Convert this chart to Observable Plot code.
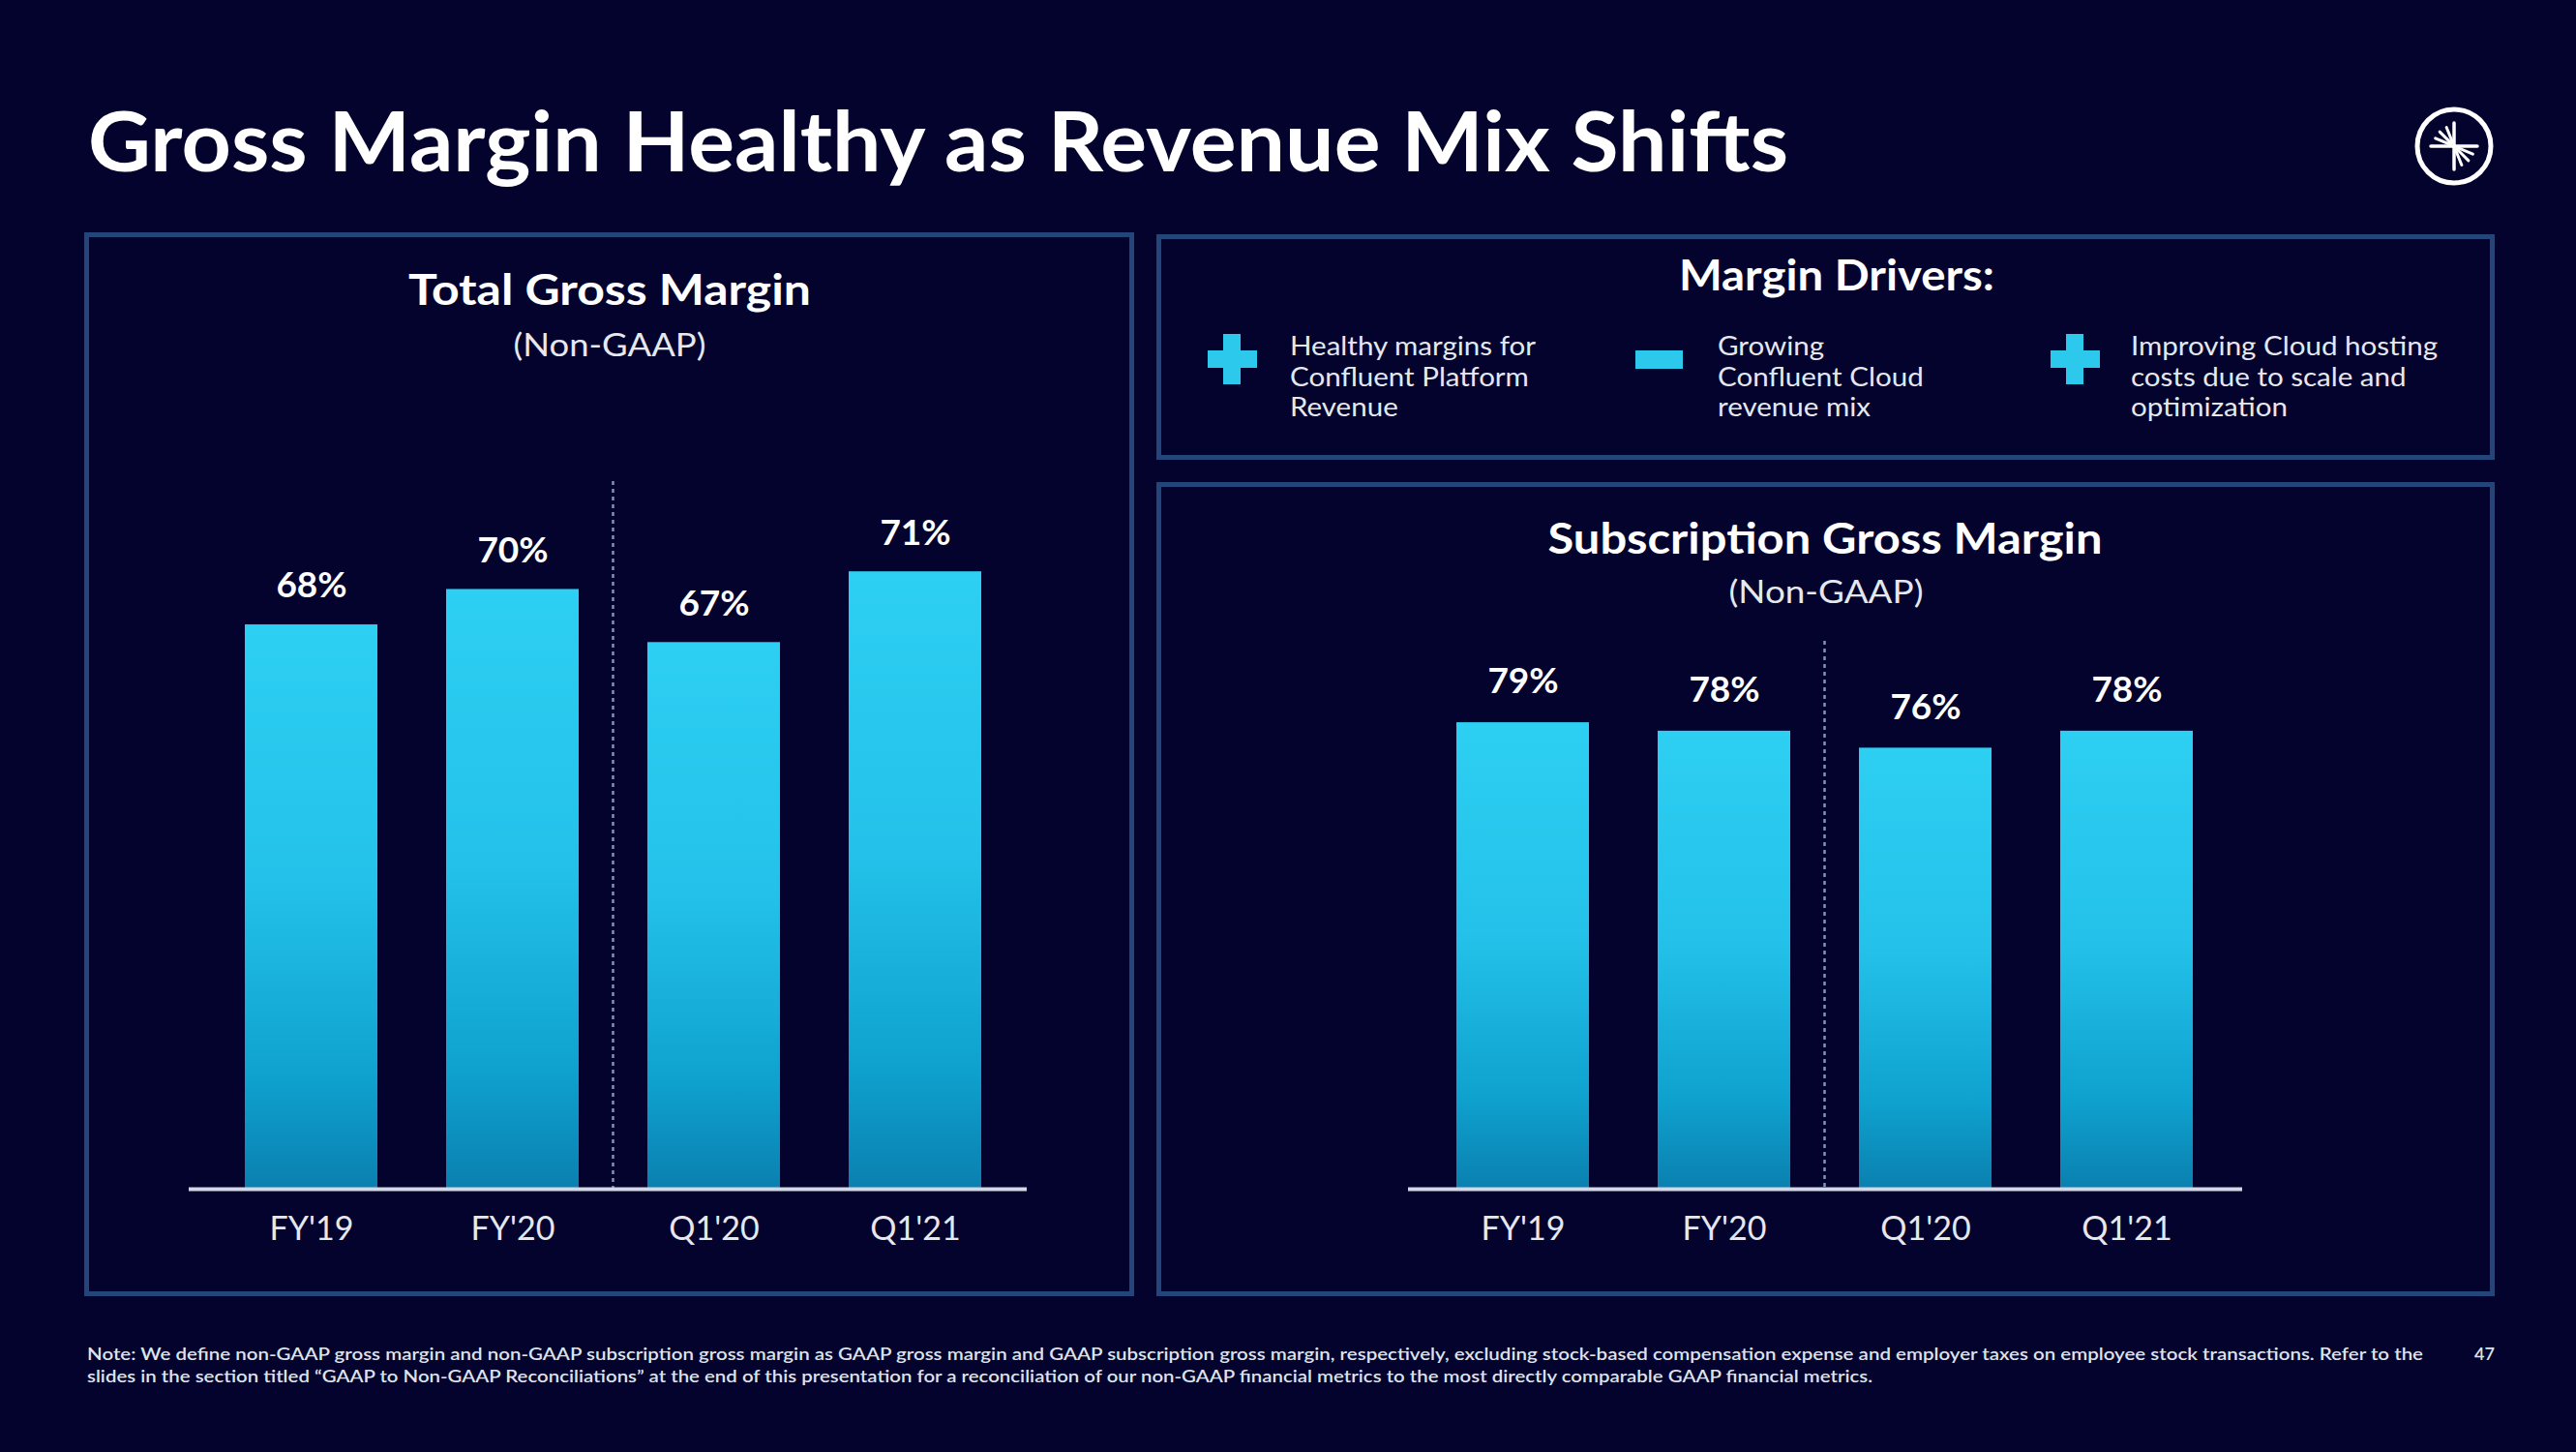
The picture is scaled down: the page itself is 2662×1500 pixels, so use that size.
<!DOCTYPE html>
<html>
<head>
<meta charset="utf-8">
<script src="https://cdn.jsdelivr.net/npm/d3@7"></script>
<script src="https://cdn.jsdelivr.net/npm/@observablehq/plot@0.6"></script>
<style>
  html, body { margin: 0; padding: 0; background: #03032e; }
  body { width: 2662px; height: 1500px; position: relative; overflow: hidden; font-family: Lato, "Open Sans", sans-serif; }
  .panel { position: absolute; box-sizing: border-box; border: 5px solid #24457a; }
  .chart { position: absolute; }
  .icon { position: absolute; background: #2cc9ec; }
  #overlay { position: absolute; left: 0; top: 0; }
</style>
</head>
<body>
<div class="panel" style="left:87px;top:240px;width:1085px;height:1099px;"></div>
<div class="panel" style="left:1195px;top:242px;width:1383px;height:233px;"></div>
<div class="panel" style="left:1195px;top:498px;width:1383px;height:841px;"></div>

<div id="chartTotal" class="chart" style="left:195px;top:497px;"></div>
<div id="chartSub" class="chart" style="left:1455px;top:662px;"></div>

<!-- driver icons -->
<div class="icon" style="left:1248px;top:362px;width:51px;height:18px;"></div>
<div class="icon" style="left:1264px;top:345px;width:18px;height:52px;"></div>
<div class="icon" style="left:1690px;top:362px;width:49px;height:19px;"></div>
<div class="icon" style="left:2119px;top:362px;width:51px;height:18px;"></div>
<div class="icon" style="left:2135px;top:345px;width:18px;height:52px;"></div>

<svg id="overlay" width="2662" height="1500"></svg>

<script>
// ---------- data ----------
const categories = ["FY'19", "FY'20", "Q1'20", "Q1'21"];
const totalMargin = [68, 70, 67, 71];          // Total Gross Margin (Non-GAAP), %
const subscriptionMargin = [79, 78, 76, 78];   // Subscription Gross Margin (Non-GAAP), %
const periodBreakAfter = "FY'20";              // dashed divider between annual and quarterly
const driverLines = [
  ["Healthy margins for", "Confluent Platform", "Revenue"],
  ["Growing", "Confluent Cloud", "revenue mix"],
  ["Improving Cloud hosting", "costs due to scale and", "optimization"]
];
const footnoteLines = [
  "Note: We define non-GAAP gross margin and non-GAAP subscription gross margin as GAAP gross margin and GAAP subscription gross margin, respectively, excluding stock-based compensation expense and employer taxes on employee stock transactions. Refer to the",
  "slides in the section titled \u201CGAAP to Non-GAAP Reconciliations\u201D at the end of this presentation for a reconciliation of our non-GAAP financial metrics to the most directly comparable GAAP financial metrics."
];

// ---------- charts ----------
function barChart({values, gradId, width, height, yDomain, labelDy, xOpts}) {
  const data = categories.map((c, i) => ({cat: c, value: values[i]}));
  const base = yDomain[0];
  const defs = () => {
    const d = d3.create("svg:defs");
    const g = d.append("linearGradient").attr("id", gradId)
      .attr("x1", 0).attr("y1", 0).attr("x2", 0).attr("y2", 1);
    [[0, "#2dcff2"], [0.45, "#24c2ea"], [0.8, "#0fa2cf"], [1, "#0a80b0"]]
      .forEach(([o, c]) => g.append("stop").attr("offset", o).attr("stop-color", c));
    return d.node();
  };
  const divider = (index, scales, values, dims) => {
    const x = scales.x;
    const bw = x.bandwidth ? x.bandwidth() : 0;
    const i = categories.indexOf(periodBreakAfter);
    const xm = (x(categories[i]) + bw + x(categories[i + 1])) / 2;
    return d3.create("svg:line")
      .attr("x1", xm).attr("x2", xm)
      .attr("y1", dims.marginTop).attr("y2", dims.height - dims.marginBottom)
      .attr("stroke", "#8592b5").attr("stroke-width", 2.5)
      .attr("stroke-dasharray", "4,4").node();
  };
  return Plot.plot({
    width, height,
    marginTop: 0, marginBottom: 72, marginLeft: 0, marginRight: 0,
    style: {background: "transparent", color: "#e6e8f0", fontFamily: "Lato, sans-serif", overflow: "visible"},
    x: {domain: categories, axis: null, ...xOpts},
    y: {domain: yDomain, axis: null},
    marks: [
      defs,
      Plot.barY(data, {x: "cat", y1: base, y2: "value", fill: `url(#${gradId})`}),
      divider,
      Plot.ruleY([base], {stroke: "#d4d8e4", strokeWidth: 4}),
      Plot.text(data, {x: "cat", y: "value", text: d => d.value + "%", dy: labelDy,
        fill: "#ffffff", fontSize: 37, fontWeight: "bold"}),
      Plot.axisX({tickSize: 0, tickPadding: 28, fontSize: 34, label: null, fill: "#e6e8f0"})
    ]
  });
}

document.getElementById("chartTotal").append(barChart({
  values: totalMargin, gradId: "gradTotal", width: 866, height: 803,
  yDomain: [36.1, 76.1], labelDy: -40,
  xOpts: {paddingInner: 0.341, paddingOuter: 0.244, align: 0.55}
}));
document.getElementById("chartSub").append(barChart({
  values: subscriptionMargin, gradId: "gradSub", width: 862, height: 638,
  yDomain: [24, 88.6], labelDy: -42,
  xOpts: {paddingInner: 0.342, paddingOuter: 0.241, align: 0.49}
}));

// ---------- text overlay ----------
const svg = d3.select("#overlay");
function addText(t, x, y, size, weight, anchor, targetWidth, fill = "#ffffff") {
  const el = svg.append("text").attr("x", x).attr("y", y)
    .attr("font-size", size).attr("font-weight", weight)
    .attr("font-family", "Lato, sans-serif")
    .attr("text-anchor", anchor).attr("fill", fill).text(t);
  if (targetWidth) el.attr("textLength", targetWidth).attr("lengthAdjust", "spacingAndGlyphs");
  return el;
}
addText("Gross Margin Healthy as Revenue Mix Shifts", 91, 177, 86, 700, "start", 1757);
addText("Total Gross Margin", 630, 315, 43, 700, "middle", 416);
addText("(Non-GAAP)", 630, 368, 32, 400, "middle", 199, "#e6e8f0");
addText("Margin Drivers:", 1898, 300, 43, 700, "middle", 326);
addText("Subscription Gross Margin", 1886, 572, 43, 700, "middle", 573);
addText("(Non-GAAP)", 1887, 623, 32, 400, "middle", 201, "#e6e8f0");

// driver texts: common horizontal scale from first line width
const driverX = [1333, 1775, 2202];
const driverEls = [];
driverLines.forEach((lines, i) => lines.forEach((l, j) => {
  driverEls.push(addText(l, driverX[i], 367 + j * 31.5, 26, 400, "start", null, "#e6e8f0"));
}));
const refLen = driverEls[0].node().getComputedTextLength();
const k = refLen > 0 ? 254 / refLen : 1;
driverEls.forEach(e => e.attr("textLength", e.node().getComputedTextLength() * k).attr("lengthAdjust", "spacingAndGlyphs"));

addText(footnoteLines[0], 90, 1405, 17, 600, "start", 2414, "#dfe2ea");
addText(footnoteLines[1], 90, 1428, 17, 600, "start", 1845, "#dfe2ea");
addText("47", 2557, 1405, 18, 600, "start", null, "#dfe2ea");

// logo
const logo = svg.append("g").attr("transform", "translate(2536,151)")
  .attr("stroke", "#ffffff").attr("fill", "none").attr("stroke-linecap", "round");
logo.append("circle").attr("r", 38).attr("stroke-width", 5);
[[0, 24], [90, 24], [180, 24], [270, 24]].forEach(([a, r]) => {
  const t = a * Math.PI / 180;
  logo.append("line").attr("x1", 0).attr("y1", 0).attr("x2", r * Math.cos(t)).attr("y2", -r * Math.sin(t)).attr("stroke-width", 3.5);
});
[112, 135, 157, 292, 315, 337].forEach(a => {
  const t = a * Math.PI / 180;
  logo.append("line").attr("x1", 4 * Math.cos(t)).attr("y1", -4 * Math.sin(t))
    .attr("x2", 21 * Math.cos(t)).attr("y2", -21 * Math.sin(t)).attr("stroke-width", 3);
});
</script>
</body>
</html>
